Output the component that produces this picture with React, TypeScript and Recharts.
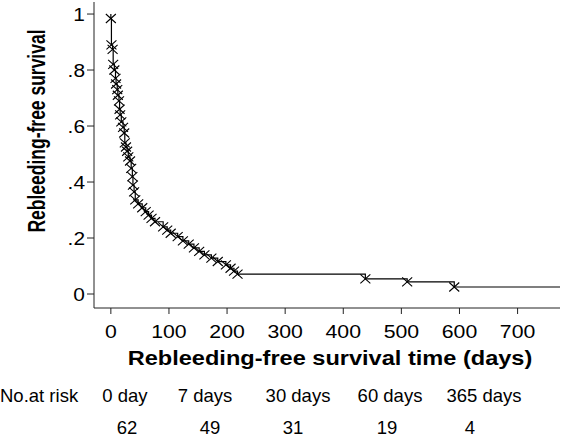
import React from "react";
import { ComposedChart, Line, XAxis, YAxis } from "recharts";

// Kaplan–Meier estimate: event days and survival after each event
const eventDays = [0, 1, 3, 4, 6, 8, 9, 11, 12, 14, 15, 16, 18, 21, 23, 24, 26, 28, 30, 33, 35, 37, 38, 40, 42, 47, 54, 60, 65, 70, 76, 90, 97, 103, 115, 124, 134, 143, 152, 161, 173, 184, 198, 206, 212, 218, 438, 510, 591];
const eventSurvival = [0.984, 0.89, 0.874, 0.82, 0.8, 0.77, 0.75, 0.73, 0.71, 0.69, 0.66, 0.64, 0.615, 0.595, 0.575, 0.54, 0.525, 0.51, 0.49, 0.475, 0.449, 0.419, 0.389, 0.365, 0.336, 0.322, 0.308, 0.294, 0.282, 0.27, 0.258, 0.24, 0.228, 0.217, 0.205, 0.19, 0.178, 0.165, 0.152, 0.14, 0.128, 0.116, 0.104, 0.092, 0.082, 0.071, 0.054, 0.043, 0.025];
const followUpEnd = 773;

const xTicks = [0, 100, 200, 300, 400, 500, 600, 700];
const yTicks = [0, 0.2, 0.4, 0.6, 0.8, 1];

const riskHeader = "No.at risk";
const riskTimes = ["0 day", "7 days", "30 days", "60 days", "365 days"];
const riskCounts = ["62", "49", "31", "19", "4"];

const xTitle = "Rebleeding-free survival time (days)";
const yTitle = "Rebleeding-free survival";

const data = [
  { t: 0, s: 1, mark: false },
  ...eventDays.map((t, i) => ({ t, s: eventSurvival[i], mark: true })),
  { t: followUpEnd, s: eventSurvival[eventSurvival.length - 1], mark: false },
];

const FONT = "'Liberation Sans', Arial, Helvetica, sans-serif";
const AXIS = "#222";

const fmtY = (v: number) => {
  if (v === 0) return "0";
  if (v === 1) return "1";
  return "." + Math.round(v * 10).toString();
};

const XDot = (props: any) => {
  const { cx, cy, payload, index } = props;
  if (!payload || !payload.mark || cx == null || cy == null) return <g key={`d${index}`} />;
  const w = 5;
  const h = 4.5;
  return (
    <path
      key={`d${index}`}
      d={`M${cx - w},${cy - h}L${cx + w},${cy + h}M${cx - w},${cy + h}L${cx + w},${cy - h}`}
      stroke="#000"
      strokeWidth={1.1}
      fill="none"
    />
  );
};

const XTick = (props: any) => {
  const { x, y, payload } = props;
  return (
    <text
      transform={`translate(${x},${y + 13.5}) scale(1.12,1)`}
      textAnchor="middle"
      fontFamily={FONT}
      fontSize={19}
      fill="#000"
    >
      {String(payload.value)}
    </text>
  );
};

const YTick = (props: any) => {
  const { x, y, payload } = props;
  return (
    <text
      transform={`translate(${x},${y + 6.7}) scale(1.1,1)`}
      textAnchor="end"
      fontFamily={FONT}
      fontSize={19}
      fill="#000"
    >
      {fmtY(payload.value)}
    </text>
  );
};

const labelCenters = [125, 205, 298, 390, 484];
const countCenters = [127, 210, 293, 387, 470];

export default function App() {
  return (
    <div style={{ position: "absolute", left: 0, top: 0, width: 567, height: 438, background: "#fff" }}>
      <ComposedChart
        width={567}
        height={438}
        data={data}
        margin={{ top: 2, right: 7, bottom: 90, left: 0 }}
      >
        <XAxis
          dataKey="t"
          type="number"
          domain={[-29, 773]}
          allowDataOverflow
          ticks={xTicks}
          height={40}
          tickSize={6}
          tickMargin={10.5}
          stroke={AXIS}
          tick={XTick}
          interval={0}
        />
        <YAxis
          dataKey="s"
          type="number"
          domain={[-0.05, 1.043]}
          allowDataOverflow
          ticks={yTicks}
          width={94}
          tickSize={7}
          tickMargin={2}
          stroke={AXIS}
          tick={YTick}
          interval={0}
        />
        <Line
          type="stepAfter"
          dataKey="s"
          stroke="#000"
          strokeWidth={1.2}
          dot={XDot}
          activeDot={false}
          isAnimationActive={false}
        />
      </ComposedChart>
      <svg
        width={567}
        height={438}
        style={{ position: "absolute", left: 0, top: 0, pointerEvents: "none" }}
      >
        <text
          x={0}
          y={0}
          transform="translate(45,131) scale(1.35,1) rotate(-90)"
          textAnchor="middle"
          fontFamily={FONT}
          fontWeight="bold"
          fontSize={17.5}
          fill="#000"
        >
          {yTitle}
        </text>
        <text
          x={0}
          y={0}
          transform="translate(330,365) scale(1.15,1)"
          textAnchor="middle"
          fontFamily={FONT}
          fontWeight="bold"
          fontSize={20.5}
          fill="#000"
        >
          {xTitle}
        </text>
        <text x={0} y={402} textAnchor="start" fontFamily={FONT} fontSize={18.5} fill="#000">
          {riskHeader}
        </text>
        {riskTimes.map((lab, i) => (
          <text key={lab} x={labelCenters[i]} y={402} textAnchor="middle" fontFamily={FONT} fontSize={18.5} fill="#000">
            {lab}
          </text>
        ))}
        {riskCounts.map((c, i) => (
          <text key={`c${i}`} x={countCenters[i]} y={434} textAnchor="middle" fontFamily={FONT} fontSize={18.5} fill="#000">
            {c}
          </text>
        ))}
      </svg>
    </div>
  );
}
